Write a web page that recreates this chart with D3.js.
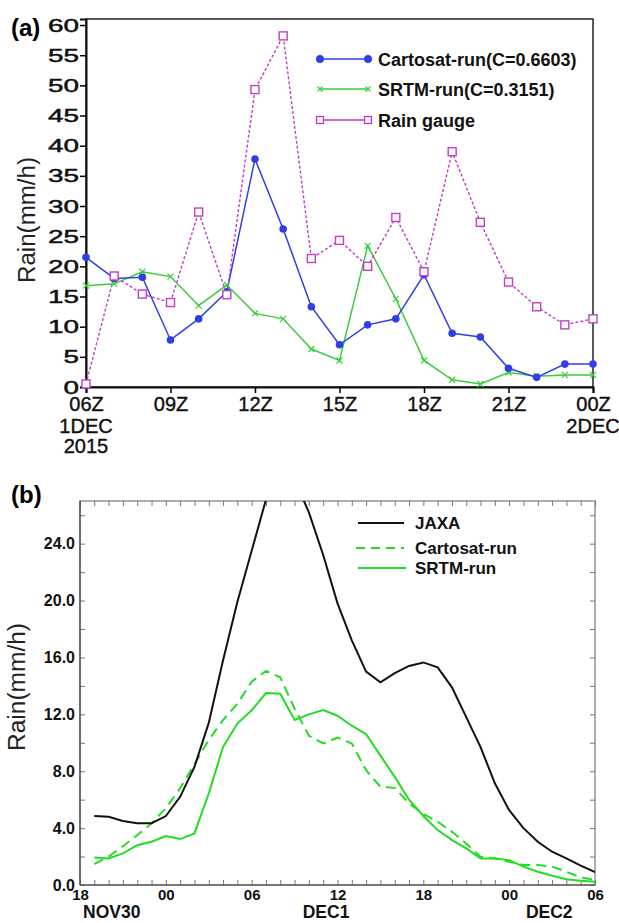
<!DOCTYPE html>
<html>
<head>
<meta charset="utf-8">
<title>Rain comparison</title>
<script src="https://d3js.org/d3.v7.min.js"></script>
<style>
body { margin:0; background:#fff; font-family:"Liberation Sans", Arial, sans-serif; }
svg text { font-family:"Liberation Sans", Arial, sans-serif; }
</style>
</head>
<body>
<svg id="chart" width="619" height="923"></svg>
<script>
// ---- panel (a): hourly rain, 06Z 1DEC 2015 .. 00Z 2DEC
var hoursA = [6,7,8,9,10,11,12,13,14,15,16,17,18,19,20,21,22,23,24];
var cartosatA = [21.5,18.0,18.2,7.8,11.3,15.8,37.8,26.2,13.3,7.0,10.3,11.3,18.6,8.9,8.3,3.1,1.6,3.8,3.8];
var srtmA = [16.8,17.1,19.1,18.3,13.5,16.9,12.2,11.3,6.3,4.4,23.4,14.6,4.4,1.2,0.5,2.4,1.8,2.0,2.0];
var gaugeA = [0.5,18.4,15.4,14.0,29.0,15.3,49.3,58.2,21.3,24.3,20.0,28.1,19.1,39.0,27.3,17.4,13.3,10.3,11.3];
var xTicksA = [6,9,12,15,18,21,24];
var xLabelsA = ["06Z","09Z","12Z","15Z","18Z","21Z","00Z"];
var legendA = ["Cartosat-run(C=0.6603)","SRTM-run(C=0.3151)","Rain gauge"];

// ---- panel (b): hours after 18Z NOV30
var hoursB = [1,2,3,4,5,6,7,8,9,10,11,12,13,14,15,16,17,18,19,20,21,22,23,24,25,26,27,28,29,30,31,32,33,34,35,36];
var jaxaB = [4.85,4.8,4.5,4.35,4.35,4.85,6.2,8.3,11.4,15.8,19.9,23.5,27.1,29.0,28.5,26.2,23.2,19.8,17.2,15.0,14.25,14.9,15.4,15.65,15.3,13.9,11.8,9.7,7.15,5.26,4.0,3.04,2.34,1.87,1.36,0.9];
var cartosatB = [1.47,2.0,2.73,3.5,4.33,5.4,6.8,8.5,10.2,11.6,12.75,14.3,15.05,14.6,12.4,10.5,9.95,10.36,9.95,8.07,6.9,6.83,5.73,5.0,4.45,3.74,2.92,1.99,1.87,1.64,1.4,1.4,1.29,0.93,0.54,0.35];
var srtmB = [1.94,1.87,2.22,2.8,3.04,3.44,3.23,3.63,6.43,9.7,11.35,12.28,13.5,13.45,11.6,12.0,12.3,11.9,11.2,10.6,9.1,7.6,6.0,4.85,3.86,3.16,2.57,1.87,1.87,1.75,1.29,0.93,0.65,0.4,0.3,0.23];
var legendB = ["JAXA","Cartosat-run","SRTM-run"];
var dateLabelsB = ["NOV30","DEC1","DEC2"];

var svg = d3.select("#chart");

// =================== panel (a) ===================
var xa = d3.scaleLinear().domain([6,24]).range([86,593]);
var ya = d3.scaleLinear().domain([0,61]).range([387,19]);

svg.append("text").attr("x",11).attr("y",36).attr("font-size",24).attr("font-weight","bold").text("(a)");

svg.append("rect").attr("x",86).attr("y",19).attr("width",593-86).attr("height",387-19)
  .attr("fill","none").attr("stroke","#222").attr("stroke-width",1.5);

var axL = svg.append("g").attr("transform","translate(86,0)")
  .call(d3.axisLeft(ya).tickValues(d3.range(0,61,5)).tickSize(6).tickPadding(1));
axL.select(".domain").attr("stroke-width",2).attr("stroke","#111");
axL.selectAll(".tick line").attr("stroke-width",1.5);
axL.selectAll(".tick text").attr("font-size",19).attr("fill","#111")
  .attr("stroke","#111").attr("stroke-width",0.5)
  .attr("textLength",function(d){ return String(d).length*15.5; })
  .attr("lengthAdjust","spacingAndGlyphs");

var axB = svg.append("g").attr("transform","translate(0,387)")
  .call(d3.axisBottom(xa).tickValues(xTicksA).tickSize(6).tickPadding(4)
    .tickFormat(function(d,i){ return xLabelsA[i]; }));
axB.select(".domain").attr("stroke-width",2).attr("stroke","#111");
axB.selectAll(".tick line").attr("stroke-width",1.5);
axB.selectAll(".tick text").attr("font-size",20).attr("fill","#111")
  .attr("stroke","#111").attr("stroke-width",0.4);

var sub = svg.append("g").attr("font-size",20).attr("fill","#111").attr("text-anchor","middle")
  .attr("stroke","#111").attr("stroke-width",0.4);
sub.append("text").attr("x",xa(6)).attr("y",433).text("1DEC");
sub.append("text").attr("x",xa(6)).attr("y",453).text("2015");
sub.append("text").attr("x",xa(24)).attr("y",433).text("2DEC");

svg.append("text").attr("transform","translate(35,220) rotate(-90)")
  .attr("text-anchor","middle").attr("font-size",23).attr("fill","#222")
  .attr("textLength",126).attr("lengthAdjust","spacingAndGlyphs").text("Rain(mm/h)");

var lineA = function(vals){
  return d3.line().x(function(d,i){ return xa(hoursA[i]); }).y(function(d){ return ya(d); })(vals);
};
var cBlue = "#2f3fe6", cGreenA = "#3ccc3c", cMag = "#c43cc8";

svg.append("path").attr("d",lineA(srtmA)).attr("fill","none").attr("stroke",cGreenA).attr("stroke-width",1.5);
svg.append("path").attr("d",lineA(cartosatA)).attr("fill","none").attr("stroke",cBlue).attr("stroke-width",1.5);
svg.append("path").attr("d",lineA(gaugeA)).attr("fill","none").attr("stroke",cMag).attr("stroke-width",1.4)
  .attr("stroke-dasharray","3,2");

function cross(g,x,y,s,col){
  g.append("path").attr("d","M"+(x-s)+","+(y-s)+"L"+(x+s)+","+(y+s)+"M"+(x-s)+","+(y+s)+"L"+(x+s)+","+(y-s))
    .attr("stroke",col).attr("stroke-width",1.2);
}
function square(g,x,y,s,col){
  g.append("rect").attr("x",x-s).attr("y",y-s).attr("width",2*s).attr("height",2*s)
    .attr("fill","#fff").attr("stroke",col).attr("stroke-width",1.4);
}
var mk = svg.append("g");
srtmA.forEach(function(v,i){ cross(mk,xa(hoursA[i]),ya(v),3,cGreenA); });
cartosatA.forEach(function(v,i){
  mk.append("circle").attr("cx",xa(hoursA[i])).attr("cy",ya(v)).attr("r",3.8).attr("fill",cBlue);
});
gaugeA.forEach(function(v,i){ square(mk,xa(hoursA[i]),ya(v),4,cMag); });

// legend (a)
var lgA = svg.append("g");
var lyA = [59,89,120];
lgA.append("line").attr("x1",320).attr("x2",368).attr("y1",lyA[0]).attr("y2",lyA[0]).attr("stroke",cBlue).attr("stroke-width",1.5);
lgA.append("circle").attr("cx",320).attr("cy",lyA[0]).attr("r",4).attr("fill",cBlue);
lgA.append("circle").attr("cx",368).attr("cy",lyA[0]).attr("r",4).attr("fill",cBlue);
lgA.append("line").attr("x1",320).attr("x2",368).attr("y1",lyA[1]).attr("y2",lyA[1]).attr("stroke",cGreenA).attr("stroke-width",1.5);
cross(lgA,320,lyA[1],2.5,cGreenA); cross(lgA,368,lyA[1],2.5,cGreenA);
lgA.append("line").attr("x1",320).attr("x2",368).attr("y1",lyA[2]).attr("y2",lyA[2]).attr("stroke",cMag).attr("stroke-width",1.5);
square(lgA,320,lyA[2],3.5,cMag); square(lgA,368,lyA[2],3.5,cMag);
legendA.forEach(function(t,i){
  lgA.append("text").attr("x",378).attr("y",lyA[i]+6.5).attr("font-size",18).attr("font-weight","bold")
    .attr("fill","#111").text(t);
});

// =================== panel (b) ===================
var xb = d3.scaleLinear().domain([0,36]).range([80,595]);
var yb = d3.scaleLinear().domain([0,27]).range([885,501]);

svg.append("text").attr("x",11).attr("y",503).attr("font-size",24).attr("font-weight","bold").text("(b)");

svg.append("defs").append("clipPath").attr("id","clipB").append("rect")
  .attr("x",80).attr("y",501).attr("width",595-80).attr("height",885-501);

var gray = "#777";
var bL = svg.append("g").attr("transform","translate(80,0)")
  .call(d3.axisLeft(yb).tickValues(d3.range(0,27,2)).tickSize(-5).tickPadding(5)
    .tickFormat(function(d){ return d%4===0 ? d3.format(".1f")(d) : ""; }));
var bR = svg.append("g").attr("transform","translate(595,0)")
  .call(d3.axisRight(yb).tickValues(d3.range(0,27,2)).tickSize(-5).tickFormat(""));
var bT = svg.append("g").attr("transform","translate(0,501)")
  .call(d3.axisTop(xb).ticks(36).tickSize(-5).tickFormat(""));
var bB = svg.append("g").attr("transform","translate(0,885)")
  .call(d3.axisBottom(xb).ticks(36).tickSize(-5).tickPadding(4)
    .tickFormat(function(d){ return d%6===0 ? d3.format("02")((18+d)%24) : ""; }));
[bL,bR,bT,bB].forEach(function(g){
  g.select(".domain").remove();
  g.selectAll(".tick line").attr("stroke",gray);
  g.selectAll(".tick text").attr("font-size",16).attr("font-weight","bold").attr("fill","#111");
});
bB.selectAll(".tick text").attr("font-size",15);
svg.append("rect").attr("x",80).attr("y",501).attr("width",595-80).attr("height",885-501)
  .attr("fill","none").attr("stroke",gray).attr("stroke-width",1.2);
svg.append("line").attr("x1",80).attr("x2",80).attr("y1",501).attr("y2",885).attr("stroke","#444").attr("stroke-width",1.2);
svg.append("line").attr("x1",80).attr("x2",595).attr("y1",885).attr("y2",885).attr("stroke","#444").attr("stroke-width",1.2);

var dg = svg.append("g").attr("font-size",17.5).attr("font-weight","bold").attr("fill","#111");
dg.append("text").attr("x",xb(0)+3).attr("y",918).text(dateLabelsB[0]);
dg.append("text").attr("x",xb(17.2)).attr("y",918).attr("text-anchor","middle").text(dateLabelsB[1]);
dg.append("text").attr("x",xb(32.8)).attr("y",918).attr("text-anchor","middle").text(dateLabelsB[2]);

svg.append("text").attr("transform","translate(25,687) rotate(-90)")
  .attr("text-anchor","middle").attr("font-size",23).attr("fill","#222")
  .attr("textLength",128).attr("lengthAdjust","spacingAndGlyphs").text("Rain(mm/h)");

var lineB = function(vals){
  return d3.line().x(function(d,i){ return xb(hoursB[i]); }).y(function(d){ return yb(d); })(vals);
};
var cGreenB = "#22dd22";
var pl = svg.append("g").attr("clip-path","url(#clipB)");
pl.append("path").attr("d",lineB(srtmB)).attr("fill","none").attr("stroke",cGreenB).attr("stroke-width",2);
pl.append("path").attr("d",lineB(cartosatB)).attr("fill","none").attr("stroke",cGreenB).attr("stroke-width",2)
  .attr("stroke-dasharray","10,6");
pl.append("path").attr("d",lineB(jaxaB)).attr("fill","none").attr("stroke","#111").attr("stroke-width",2);

// legend (b)
var lgB = svg.append("g");
var lyB = [523,548,568];
lgB.append("line").attr("x1",358).attr("x2",404).attr("y1",lyB[0]).attr("y2",lyB[0]).attr("stroke","#111").attr("stroke-width",2);
lgB.append("line").attr("x1",356).attr("x2",404).attr("y1",lyB[1]).attr("y2",lyB[1]).attr("stroke",cGreenB).attr("stroke-width",2).attr("stroke-dasharray","9,6");
lgB.append("line").attr("x1",358).attr("x2",406).attr("y1",lyB[2]).attr("y2",lyB[2]).attr("stroke",cGreenB).attr("stroke-width",2);
legendB.forEach(function(t,i){
  lgB.append("text").attr("x",415).attr("y",lyB[i]+6).attr("font-size",17).attr("font-weight","bold")
    .attr("fill","#111").text(t);
});
</script>
</body>
</html>
